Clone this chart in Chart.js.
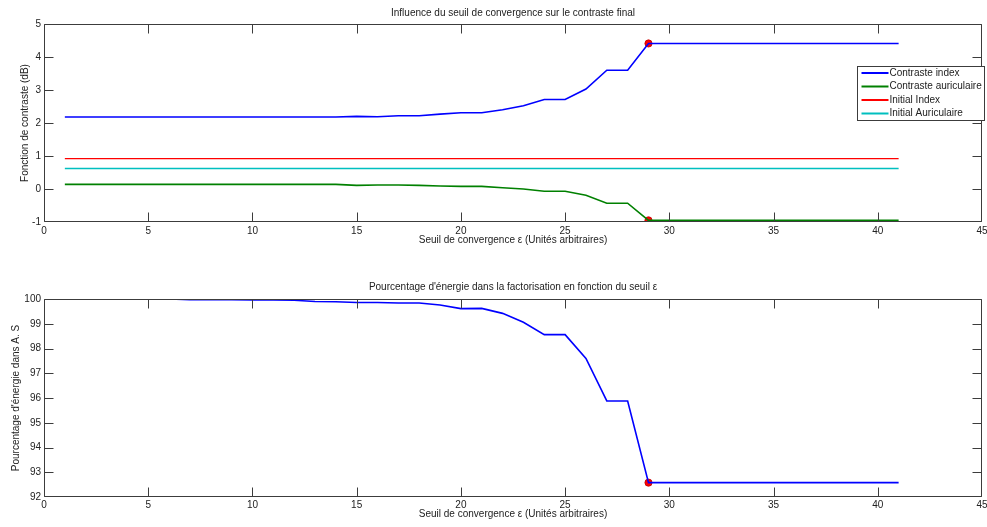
<!DOCTYPE html>
<html>
<head>
<meta charset="utf-8">
<script src="https://cdn.jsdelivr.net/npm/chart.js@4.4.1/dist/chart.umd.min.js"></script>
<style>
  html, body { margin: 0; padding: 0; background: #fff; overflow: hidden; }
  canvas { position: absolute; left: 0; }
  #haut { top: 0; }
  #bas { top: 262px; }
</style>
</head>
<body>
<canvas id="haut" width="987" height="262"></canvas>
<canvas id="bas" width="987" height="265"></canvas>
<script>
// seuil de convergence (x)
const seuils = [1, 2, 3, 4, 5, 6, 7, 8, 9, 10, 11, 12, 13, 14, 15, 16, 17, 18, 19, 20,
  21, 22, 23, 24, 25, 26, 27, 28, 29, 30, 31, 32, 33, 34, 35, 36, 37, 38, 39, 40, 41];

const contrasteIndex = [2.18, 2.18, 2.18, 2.18, 2.18, 2.18, 2.18, 2.18, 2.18, 2.18,
  2.18, 2.18, 2.18, 2.18, 2.20, 2.19, 2.22, 2.22, 2.27, 2.31,
  2.31, 2.40, 2.52, 2.71, 2.71, 3.03, 3.60, 3.60, 4.41, 4.41,
  4.41, 4.41, 4.41, 4.41, 4.41, 4.41, 4.41, 4.41, 4.41, 4.41, 4.41];

const contrasteAuriculaire = [0.14, 0.14, 0.14, 0.14, 0.14, 0.14, 0.14, 0.14, 0.14, 0.14,
  0.14, 0.14, 0.14, 0.14, 0.11, 0.12, 0.12, 0.11, 0.09, 0.08,
  0.08, 0.04, 0.00, -0.07, -0.07, -0.19, -0.43, -0.43, -0.95, -0.95,
  -0.95, -0.95, -0.95, -0.95, -0.95, -0.95, -0.95, -0.95, -0.95, -0.95, -0.95];

const initialIndex = 0.92;
const initialAuriculaire = 0.62;

const energie = [100.0, 100.0, 100.0, 100.0, 100.0, 100.0, 99.97, 99.97, 99.97, 99.96,
  99.96, 99.95, 99.90, 99.89, 99.86, 99.86, 99.84, 99.84, 99.76, 99.61,
  99.62, 99.42, 99.06, 98.56, 98.56, 97.60, 95.88, 95.88, 92.58, 92.58,
  92.58, 92.58, 92.58, 92.58, 92.58, 92.58, 92.58, 92.58, 92.58, 92.58, 92.58];

const seuilOptimal = 29;

const FONT = { family: '"Liberation Sans", Arial, sans-serif', size: 10 };
const TXT = "#222";

function pts(arr) {
  return seuils.map((x, i) => ({ x, y: arr[i] }));
}

function constant(v) {
  return seuils.map((x) => ({ x, y: v }));
}

function marker(arrs) {
  const i = seuils.indexOf(seuilOptimal);
  return arrs.map((a) => ({ x: seuilOptimal, y: a[i] }));
}

// cadre + ticks internes (style matlab)
const cadre = {
  id: "cadre",
  afterDatasetsDraw(chart) {
    const { ctx, chartArea: a, scales } = chart;
    const L = Math.round(a.left) + 0.5, R = Math.round(a.right) - 0.5;
    const T = Math.round(a.top) + 0.5, B = Math.round(a.bottom) - 0.5;
    const tl = 9;
    const clamp = (v, lo, hi) => Math.min(hi, Math.max(lo, v));
    ctx.save();
    ctx.strokeStyle = "#3c3c3c";
    ctx.lineWidth = 1;
    ctx.beginPath();
    ctx.rect(L, T, R - L, B - T);
    scales.x.ticks.forEach((t) => {
      const px = clamp(Math.round(scales.x.getPixelForValue(t.value)) + 0.5, L, R);
      ctx.moveTo(px, B); ctx.lineTo(px, B - tl);
      ctx.moveTo(px, T); ctx.lineTo(px, T + tl);
    });
    scales.y.ticks.forEach((t) => {
      const py = clamp(Math.round(scales.y.getPixelForValue(t.value)) + 0.5, T, B);
      ctx.moveTo(L, py); ctx.lineTo(L + tl, py);
      ctx.moveTo(R, py); ctx.lineTo(R - tl, py);
    });
    ctx.stroke();
    ctx.restore();
  },
  afterDraw(chart) {
    const leg = chart.options.plugins.cadre;
    if (!leg || !leg.legende) return;
    const { ctx, chartArea: a } = chart;
    const items = chart.data.datasets.filter((d) => d.label);
    const x0 = Math.round(a.right) - 125 + 0.5, y0 = Math.round(a.top) + 42 + 0.5;
    const w = 127, h = 54;
    ctx.save();
    ctx.fillStyle = "#fff";
    ctx.fillRect(x0, y0, w, h);
    ctx.strokeStyle = "#3c3c3c";
    ctx.lineWidth = 1;
    ctx.strokeRect(x0, y0, w, h);
    ctx.font = `${FONT.size}px ${FONT.family}`;
    ctx.textBaseline = "middle";
    ctx.fillStyle = TXT;
    items.forEach((d, i) => {
      const y = y0 + 6.5 + i * 13.5;
      ctx.strokeStyle = d.borderColor;
      ctx.lineWidth = 2;
      ctx.beginPath();
      ctx.moveTo(x0 + 4, y); ctx.lineTo(x0 + 31, y);
      ctx.stroke();
      ctx.fillText(d.label, x0 + 32, y);
    });
    ctx.restore();
  },
};

function axeX(heightBox, tickPad, padBottom) {
  return {
    type: "linear", min: 0, max: 45,
    ticks: { stepSize: 5, padding: tickPad, font: FONT, color: TXT, maxRotation: 0 },
    grid: { display: false, drawTicks: false },
    border: { display: false },
    title: { display: true, text: "Seuil de convergence \u03b5 (Unités arbitraires)", font: FONT, color: TXT,
      padding: { top: 0, bottom: padBottom } },
    afterFit(s) { s.height = heightBox; s.paddingLeft = 0; s.paddingRight = 0; },
  };
}

function axeY(min, max, titre, padTop) {
  return {
    type: "linear", min, max,
    ticks: { stepSize: 1, padding: 3, font: FONT, color: TXT },
    grid: { display: false, drawTicks: false },
    border: { display: false },
    title: { display: true, text: titre, font: FONT, color: TXT, padding: { top: padTop, bottom: 0 } },
    afterFit(s) { s.width = 44; },
  };
}

const common = {
  responsive: false,
  animation: false,
  devicePixelRatio: 1,
  layout: { padding: { left: 0, right: 5, top: 0, bottom: 0 } },
};

new Chart(document.getElementById("haut"), {
  type: "line",
  data: {
    datasets: [
      { label: "Contraste index", data: pts(contrasteIndex), borderColor: "#0000ff", borderWidth: 1.6, pointRadius: 0, tension: 0 },
      { label: "Contraste auriculaire", data: pts(contrasteAuriculaire), borderColor: "#008000", borderWidth: 1.6, pointRadius: 0, tension: 0 },
      { label: "Initial Index", data: constant(initialIndex), borderColor: "#ff0000", borderWidth: 1.4, pointRadius: 0 },
      { label: "Initial Auriculaire", data: constant(initialAuriculaire), borderColor: "#00bfbf", borderWidth: 1.4, pointRadius: 0 },
      { data: marker([contrasteIndex, contrasteAuriculaire]), showLine: false, pointRadius: 3.6,
        pointBackgroundColor: "#ff0000", pointBorderColor: "#c00000", pointBorderWidth: 0.8, borderColor: "#ff0000" },
    ],
  },
  options: {
    ...common,
    plugins: {
      legend: { display: false },
      tooltip: { enabled: false },
      title: { display: true, fullSize: false, text: "Influence du seuil de convergence sur le contraste final",
        font: { ...FONT, weight: "normal" }, color: TXT, padding: { top: 7, bottom: 5 } },
      cadre: { legende: true },
    },
    scales: {
      x: axeX(40, 3, 16),
      y: axeY(-1, 5, "Fonction de contraste (dB)", 19),
    },
  },
  plugins: [cadre],
});

new Chart(document.getElementById("bas"), {
  type: "line",
  data: {
    datasets: [
      { data: pts(energie), borderColor: "#0000ff", borderWidth: 1.6, pointRadius: 0, tension: 0, clip: 0 },
      { data: marker([energie]), showLine: false, pointRadius: 3.6,
        pointBackgroundColor: "#ff0000", pointBorderColor: "#c00000", pointBorderWidth: 0.8, borderColor: "#ff0000" },
    ],
  },
  options: {
    ...common,
    plugins: {
      legend: { display: false },
      tooltip: { enabled: false },
      title: { display: true, fullSize: false, text: "Pourcentage d'énergie dans la factorisation en fonction du seuil \u03b5",
        font: { ...FONT, weight: "normal" }, color: TXT, padding: { top: 19, bottom: 6 } },
      cadre: { legende: false },
    },
    scales: {
      x: axeX(30, 2, 7),
      y: axeY(92, 100, "Pourcentage d'énergie dans A. S", 10),
    },
  },
  plugins: [cadre],
});
</script>
</body>
</html>
